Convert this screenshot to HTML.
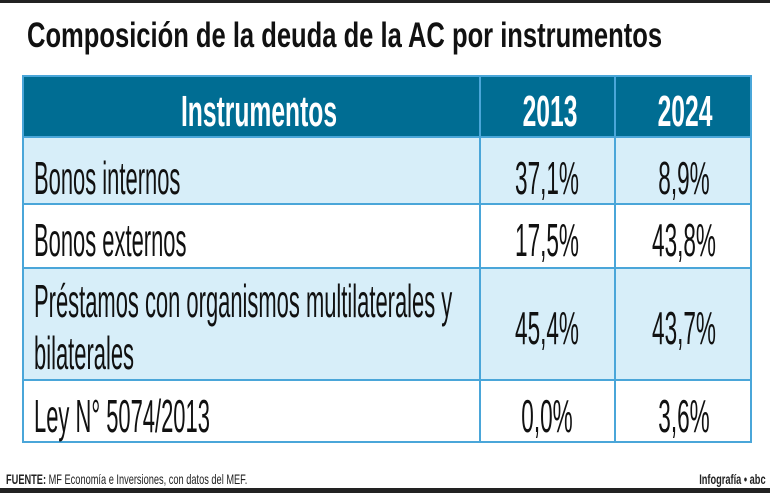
<!DOCTYPE html>
<html><head><meta charset="utf-8"><style>
body{margin:0;width:770px;height:493px;background:#fff;position:relative;overflow:hidden;font-family:"Liberation Sans",sans-serif}
.a{position:absolute}
.t{position:absolute;white-space:nowrap;transform-origin:0 0;line-height:1}
.c{position:absolute;white-space:nowrap;line-height:1}
.h{position:absolute;left:22px;width:730px;height:2px;background:#4aa6d9}
.b{font-size:46px;color:#111}
.t.b{transform:scaleX(0.477)}
.c.b{transform:translateX(-50%) scaleX(0.49)}
.hd{font-size:44px;font-weight:bold;color:#fff;transform:translateX(-50%) scaleX(0.56)}
</style></head><body>
<div class="a" style="left:0;top:0;width:770px;height:3px;background:#222"></div>
<div class="t" style="left:27px;top:18px;font-size:35px;font-weight:bold;color:#111;transform:scaleX(0.73)">Composición de la deuda de la AC por instrumentos</div>

<div class="a" style="left:22px;top:76px;width:730px;height:61px;background:#006d93"></div>
<div class="h" style="top:75px"></div>
<div class="a" style="left:22px;top:137px;width:730px;height:67px;background:#d7eef9"></div>
<div class="a" style="left:22px;top:268px;width:730px;height:112px;background:#d7eef9"></div>
<div class="h" style="top:136px"></div>
<div class="h" style="top:203px"></div>
<div class="h" style="top:267px"></div>
<div class="h" style="top:379px"></div>
<div class="h" style="top:441px"></div>
<div class="a" style="left:22px;top:75px;width:2px;height:368px;background:#4aa6d9"></div>
<div class="a" style="left:479px;top:75px;width:2px;height:368px;background:#4aa6d9"></div>
<div class="a" style="left:614px;top:75px;width:2px;height:368px;background:#4aa6d9"></div>
<div class="a" style="left:750px;top:75px;width:2px;height:368px;background:#4aa6d9"></div>

<div class="c hd" style="left:259px;top:90px">Instrumentos</div>
<div class="c hd" style="left:550px;top:90px">2013</div>
<div class="c hd" style="left:685px;top:90px">2024</div>

<div class="t b" style="left:34px;top:155px">Bonos internos</div>
<div class="c b" style="left:547px;top:155px">37,1%</div>
<div class="c b" style="left:684px;top:155px">8,9%</div>

<div class="t b" style="left:34px;top:217px">Bonos externos</div>
<div class="c b" style="left:547px;top:217px">17,5%</div>
<div class="c b" style="left:684px;top:217px">43,8%</div>

<div class="t b" style="left:34px;top:278px">Préstamos con organismos multilaterales y</div>
<div class="t b" style="left:34px;top:330px">bilaterales</div>
<div class="c b" style="left:547px;top:305px">45,4%</div>
<div class="c b" style="left:684px;top:305px">43,7%</div>

<div class="t b" style="left:34px;top:393px">Ley N° 5074/2013</div>
<div class="c b" style="left:547px;top:393px">0,0%</div>
<div class="c b" style="left:684px;top:393px">3,6%</div>

<div class="t" style="left:6px;top:472px;font-size:14px;color:#222;transform:scaleX(0.66)"><b>FUENTE:</b> MF Economía e Inversiones, con datos del MEF.</div>
<div class="t" style="right:4px;top:472px;font-size:14px;color:#222;font-weight:bold;transform-origin:100% 0;transform:scaleX(0.66)">Infografía • abc</div>
<div class="a" style="left:0;top:488px;width:770px;height:5px;background:#222"></div>
</body></html>
